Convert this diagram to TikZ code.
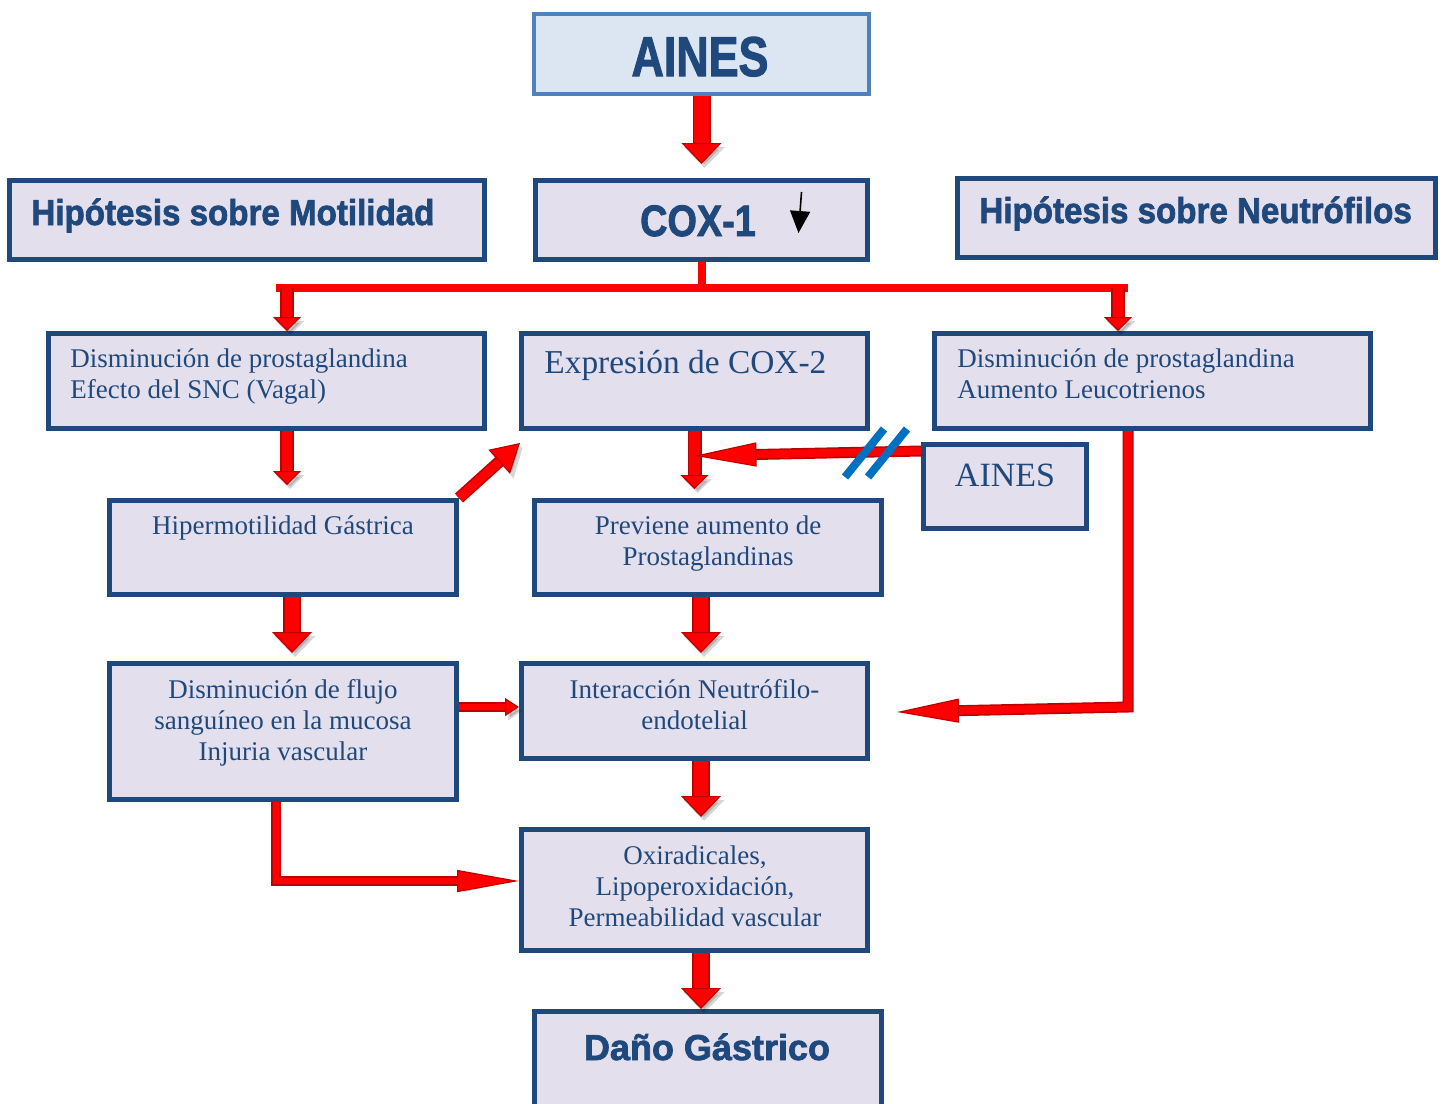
\documentclass[tikz,border=0pt]{standalone}
\usepackage{fontspec}
\setmainfont{Liberation Serif}
\newfontfamily\heavyfont{Liberation Sans}[BoldFeatures={FakeBold=2}]
\usetikzlibrary{arrows.meta,calc}
\definecolor{navy}{RGB}{31,73,125}
\definecolor{boxfill}{RGB}{228,223,236}
\definecolor{topfill}{RGB}{220,230,242}
\definecolor{topline}{RGB}{79,129,189}
\definecolor{slashblue}{RGB}{0,112,192}
\definecolor{darkred}{RGB}{190,0,0}
\tikzset{
  flowbox/.style={draw=navy, fill=boxfill, line width=2.5pt, inner sep=0pt},
  boxtext/.style={text=navy, font=\fontsize{13.5}{15.5}\selectfont, inner sep=0pt},
  titletext/.style={text=navy, font=\heavyfont\bfseries\fontsize{18}{20}\selectfont, inner sep=0pt},
  redarrow/.style n args={3}{draw=darkred, line width=#1, line join=miter,
    -{Triangle[width=#2,length=#3,fill=red,color=darkred,line width=0.6pt]},
    preaction={draw=black, opacity=0.16, transform canvas={shift={(1.5pt,-2pt)}},
      -{Triangle[width=#2,length=#3]}},
    postaction={draw=red, line width=#1-1.6pt, arrows=-, shorten >=#3}},
  bigarrow/.style={redarrow={9pt}{20pt}{10.5pt}},
  midarrow/.style={redarrow={7pt}{14pt}{7pt}},
  diagarrow/.style={redarrow={6pt}{16pt}{14pt}},
  smallarrow/.style={redarrow={5pt}{9pt}{7pt}},
  longarrow/.style={redarrow={5.5pt}{12pt}{31pt}},
  busline/.style={draw=red, line width=4pt},
  slashmark/.style={draw=slashblue, line width=4pt}
}
\begin{document}
\begin{tikzpicture}[x=0.5pt,y=-0.5pt]
\clip (0,0) rectangle (1447,1104);
\fill[white] (0,0) rectangle (1447,1104);

% boxes
\node[flowbox, draw=topline, fill=topfill, line width=2pt, minimum width=167.5pt, minimum height=40pt] (ainesTop) at (701.5,54) {};
\node[flowbox, minimum width=166pt, minimum height=39.5pt] (cox1) at (701.5,220) {};
\node[flowbox, minimum width=237.5pt, minimum height=39.5pt] (hipMot) at (247,220) {};
\node[flowbox, minimum width=239pt, minimum height=39.5pt] (hipNeu) at (1196.5,218) {};
\node[flowbox, minimum width=218pt, minimum height=47.5pt] (dimL) at (266.5,381) {};
\node[flowbox, minimum width=173pt, minimum height=47.5pt] (expr) at (694.5,381) {};
\node[flowbox, minimum width=218pt, minimum height=47.5pt] (dimR) at (1152.5,381) {};
\node[flowbox, minimum width=81.5pt, minimum height=42pt] (ainesSm) at (1005,486.5) {};
\node[flowbox, minimum width=173.5pt, minimum height=47pt] (hiper) at (283,547.5) {};
\node[flowbox, minimum width=173.5pt, minimum height=47pt] (prev) at (708,547.5) {};
\node[flowbox, minimum width=173.5pt, minimum height=68pt] (flujo) at (283,731.5) {};
\node[flowbox, minimum width=173pt, minimum height=47.5pt] (inter) at (694.5,711) {};
\node[flowbox, minimum width=173pt, minimum height=60.5pt] (oxi) at (694.5,890) {};
\node[flowbox, minimum width=173.5pt, minimum height=58pt] (dano) at (708,1069.5) {};

% helper points
\coordinate (busL) at (276,288);
\coordinate (busR) at (1128,288);
\coordinate (dropL) at (287,288);
\coordinate (dropR) at (1118,288);
\coordinate (c7) at ($(flujo.north east)+(0,46)$);
\coordinate (c8) at ($(flujo.south west)+(169,0)$);
\coordinate (c8e) at ($(oxi.west)+(0,-9)$);
\coordinate (cut) at ($(expr.south)!0.37!(expr.south |- prev.north)$);
\coordinate (c12) at (dimR.south -| busR);
\coordinate (interR) at ($(inter.east)+(27,1)$);

% connectors
\draw[bigarrow] (ainesTop.south) -- ($(cox1.north)+(0,-14)$);
\draw[busline] (cox1.south) -- (cox1.south |- busL);
\draw[busline] (busL) -- (busR);
\draw[midarrow] (dropL) -- (dropL |- dimL.north);
\draw[midarrow] (dropR) -- (dropR |- dimR.north);
\draw[midarrow] (dimL.south -| dropL) -- ($(hiper.north -| dropL)+(0,-13)$);
\draw[diagarrow] (hiper.north east) -- ($(expr.south west)+(1,12)$);
\draw[bigarrow] ($(hiper.south)+(9,0)$) -- ($(flujo.north)+(9,-8)$);
\draw[smallarrow] (c7) -- (c7 -| inter.west);
\draw[redarrow={5pt}{11pt}{31pt}] (c8) |- (c8e);
\draw[midarrow] (expr.south) -- ($(expr.south |- prev.north)+(0,-9)$);
\draw[longarrow] ($(ainesSm.north west)+(0,9)$) -- (cut);
\draw[slashmark] (845,477) -- (884,429);
\draw[slashmark] (868,477) -- (907,429);
\draw[bigarrow] ($(prev.south)+(-7,0)$) -- ($(inter.north)+(6.5,-8)$);
\draw[longarrow] (c12) -- ++(0,276) -- (interR);
\draw[bigarrow] ($(inter.south)+(6.5,0)$) -- ($(oxi.north)+(6.5,-10)$);
\draw[bigarrow] ($(oxi.south)+(6.5,0)$) -- ($(dano.north)+(-7,0)$);

% small decrease mark beside COX-1
\draw[line width=0.8pt, -{Triangle[width=10pt,length=11pt]}] ($(cox1.north)+(100,14)$) -- ($(cox1.north)+(97,55)$);

% texts
\node[titletext, font=\heavyfont\bfseries\fontsize{28}{30}\selectfont, anchor=base] (tAinesTop) at (700,76) {\scalebox{0.8}[1]{AINES}};
\node[titletext, font=\heavyfont\bfseries\fontsize{22}{24}\selectfont, anchor=base] (tCox) at (698,236) {\scalebox{0.86}[1]{COX-1}};
\node[titletext, anchor=base west] (tMot) at (31,225) {\scalebox{0.92}[1]{Hipótesis sobre Motilidad}};
\node[titletext, anchor=base west] (tNeu) at (979,223) {\scalebox{0.92}[1]{Hipótesis sobre Neutrófilos}};
\node[titletext, anchor=base] (tDano) at (707,1060) {Daño Gástrico};

\node[boxtext, anchor=north west, align=left] (tDimL) at (70,345.3) {\strut Disminución de prostaglandina\\Efecto del SNC (Vagal)};
\node[boxtext, font=\fontsize{16.7}{19}\selectfont, anchor=base west] (tExpr) at (544,373) {Expresión de COX-2};
\node[boxtext, anchor=north west, align=left] (tDimR) at (957,345.3) {\strut Disminución de prostaglandina\\Aumento Leucotrienos};
\node[boxtext, font=\fontsize{17}{19}\selectfont, anchor=base] (tAinesSm) at (1005,486) {AINES};
\node[boxtext, anchor=base] (tHiper) at (283,534) {Hipermotilidad Gástrica};
\node[boxtext, anchor=north, align=center] (tPrev) at (708,512.3) {\strut Previene aumento de\\Prostaglandinas};
\node[boxtext, anchor=north, align=center] (tFlujo) at (283,676.3) {\strut Disminución de flujo\\sanguíneo en la mucosa\\Injuria vascular};
\node[boxtext, anchor=north, align=center] (tInter) at (694.5,676.3) {\strut Interacción Neutrófilo-\\endotelial};
\node[boxtext, anchor=north, align=center] (tOxi) at (695,842.3) {\strut Oxiradicales,\\Lipoperoxidación,\\Permeabilidad vascular};
\end{tikzpicture}
\end{document}
